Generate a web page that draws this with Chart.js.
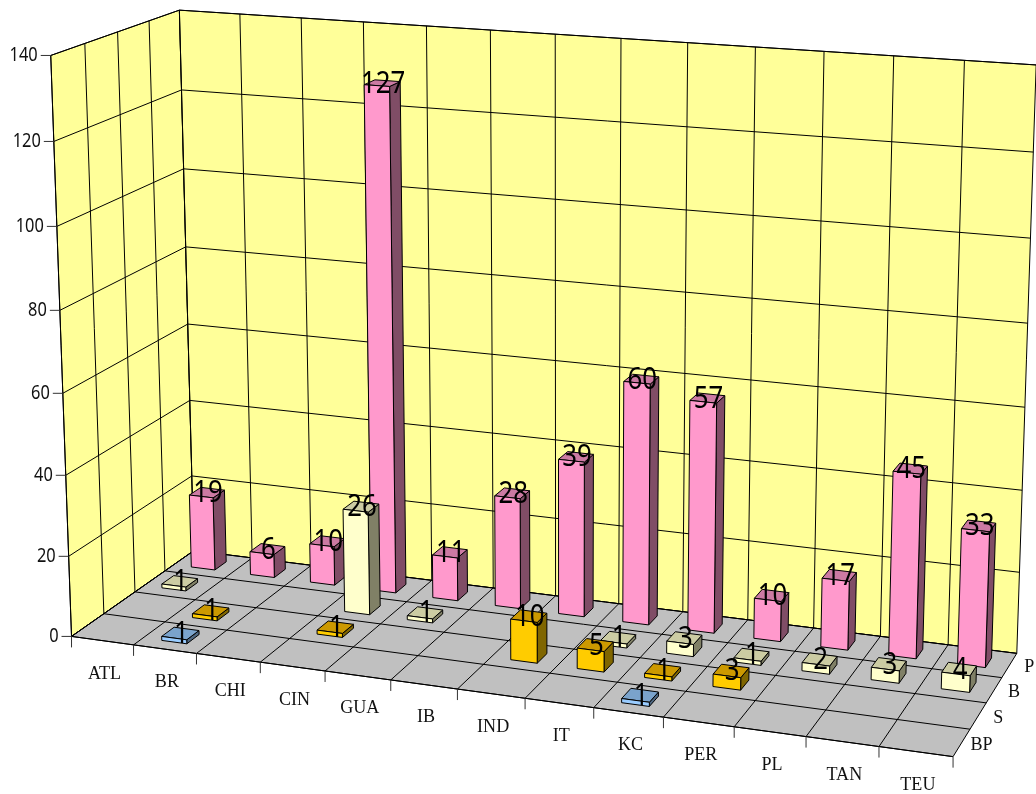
<!DOCTYPE html>
<html>
<head>
<meta charset="utf-8">
<title>Chart</title>
<script src="https://cdn.jsdelivr.net/npm/chart.js@4"></script>
<style>
  html,body{margin:0;padding:0;background:#fff;}
  canvas{display:block;}
</style>
</head>
<body>
<canvas id="grafico" width="1036" height="794"></canvas>
<script>
const categorias=["ATL","BR","CHI","CIN","GUA","IB","IND","IT","KC","PER","PL","TAN","TEU"];
const series=["BP","S","B","P"];
const valoresP=[19,6,10,127,11,28,39,60,57,10,17,45,33];
const valoresB=[1,null,null,26,1,null,null,1,3,1,2,3,4];
const valoresS=[null,1,null,1,null,null,10,5,1,3,null,null,null];
const valoresBP=[null,1,null,null,null,null,null,null,1,null,null,null,null];

// where the corners of the box land on the canvas: [u, v, w, x, y]
const cantos=[
  [0,0,0,72.3,636],[0,1,0,50.5,55],[0,0,1,193,551],[0,1,1,180,10],
  [1,0,0,953,757],[1,0,1,1017,653],[1,1,1,1036,65],
  [0,120/140,0,53.3,142],[0,120/140,1,181.7,90]
];

// projective camera, least squares over the corners
function calibrar(){
  const n=11, A=[], b=[];
  cantos.forEach(([u,v,w,x,y])=>{
    A.push([u,v,w,1,0,0,0,0,-x*u,-x*v,-x*w]); b.push(x);
    A.push([0,0,0,0,u,v,w,1,-y*u,-y*v,-y*w]); b.push(y);
  });
  const M=[];
  for(let i=0;i<n;i++){
    const l=[];
    for(let j=0;j<n;j++){
      let s=0;
      A.forEach(r=>{s+=r[i]*r[j];});
      l.push(s);
    }
    let s=0;
    A.forEach((r,k)=>{s+=r[i]*b[k];});
    l.push(s);
    M.push(l);
  }
  for(let i=0;i<n;i++){
    let p=i;
    for(let k=i+1;k<n;k++) if(Math.abs(M[k][i])>Math.abs(M[p][i])) p=k;
    [M[i],M[p]]=[M[p],M[i]];
    for(let k=0;k<n;k++){
      if(k===i) continue;
      const f=M[k][i]/M[i][i];
      for(let j=i;j<=n;j++) M[k][j]-=f*M[i][j];
    }
  }
  return M.map((l,i)=>l[n]/l[i]);
}
const cam=calibrar();

function proj(u,v,w){
  const d=cam[8]*u+cam[9]*v+cam[10]*w+1;
  return [(cam[0]*u+cam[1]*v+cam[2]*w+cam[3])/d,(cam[4]*u+cam[5]*v+cam[6]*w+cam[7])/d];
}

function face(ctx,pts,cor){
  ctx.beginPath();
  pts.forEach((p,i)=>{
    const q=proj(p[0],p[1],p[2]);
    if(i===0) ctx.moveTo(q[0],q[1]); else ctx.lineTo(q[0],q[1]);
  });
  ctx.closePath();
  if(cor){ctx.fillStyle=cor;ctx.fill();}
  ctx.stroke();
}

function linha(ctx,a,b){
  const p=proj(a[0],a[1],a[2]), q=proj(b[0],b[1],b[2]);
  ctx.beginPath();
  ctx.moveTo(p[0],p[1]);
  ctx.lineTo(q[0],q[1]);
  ctx.stroke();
}

// text squeezed horizontally
function texto(ctx,str,x,y,sx){
  ctx.save();
  ctx.translate(x,y);
  ctx.scale(sx,1);
  ctx.fillText(str,0,0);
  ctx.restore();
}

const FRACAO_BARRA=0.4;

// scale pixels to 0..1 box coordinates
function normX(s,px){return (px-s.left)/s.width;}
function normY(s,px){return (s.bottom-px)/s.height;}

const caixa3d={
  id:"caixa3d",
  beforeDatasetsDraw(chart){
    const ctx=chart.ctx, {x,y,z}=chart.scales;
    ctx.save();
    ctx.lineWidth=1;
    ctx.strokeStyle="#000";
    ctx.lineJoin="round";

    // PAREDES E CHÃO
    face(ctx,[[0,0,0],[0,1,0],[0,1,1],[0,0,1]],"#FFFF99");
    face(ctx,[[0,0,1],[0,1,1],[1,1,1],[1,0,1]],"#FFFF99");
    face(ctx,[[0,0,0],[0,0,1],[1,0,1],[1,0,0]],"#C0C0C0");

    // GRADE
    y.ticks.forEach(t=>{
      const v=normY(y,y.getPixelForValue(t.value));
      linha(ctx,[0,v,0],[0,v,1]);
      linha(ctx,[0,v,1],[1,v,1]);
    });
    categorias.forEach((_,i)=>{
      const u=i/categorias.length;
      linha(ctx,[u,0,1],[u,1,1]);
      linha(ctx,[u,0,0],[u,0,1]);
    });
    series.forEach((_,i)=>{
      const w=i/series.length;
      linha(ctx,[0,0,w],[0,1,w]);
      linha(ctx,[0,0,w],[1,0,w]);
    });

    // MARCAS DOS EIXOS
    ctx.strokeStyle="#333";
    for(let i=0;i<=categorias.length;i++){
      const p=proj(i/categorias.length,0,0);
      ctx.beginPath();ctx.moveTo(p[0],p[1]);ctx.lineTo(p[0],p[1]+11);ctx.stroke();
    }

    // TEXTO DOS EIXOS
    ctx.fillStyle="#111";
    ctx.textBaseline="middle";
    ctx.font="20px 'Noto Sans'";
    ctx.textAlign="right";
    y.ticks.forEach(t=>{
      const p=proj(0,normY(y,y.getPixelForValue(t.value)),0);
      ctx.beginPath();ctx.moveTo(p[0]-10,p[1]);ctx.lineTo(p[0],p[1]);ctx.stroke();
      texto(ctx,String(t.value),p[0]-13,p[1],0.82);
    });
    ctx.strokeStyle="#000";
    ctx.font="19px 'Liberation Serif'";
    ctx.textAlign="center";
    categorias.forEach((c,i)=>{
      const p=proj(normX(x,x.getPixelForValue(i)),0,0);
      texto(ctx,c,p[0]+2,p[1]+33,0.95);
    });
    series.forEach((s,i)=>{
      const p=proj(1,0,normX(z,z.getPixelForValue(i)));
      texto(ctx,s,p[0]+20,p[1]+2,0.95);
    });

    // BARRAS, de trás para a frente
    const meiaU=FRACAO_BARRA/categorias.length/2, meiaW=FRACAO_BARRA/series.length/2;
    chart.data.datasets.forEach(ds=>{
      const w=normX(z,z.getPixelForValue(series.indexOf(ds.label)));
      ds.data.forEach((val,i)=>{
        if(val===null) return;
        const u=normX(x,x.getPixelForValue(i));
        const v=normY(y,y.getPixelForValue(val));
        const u0=u-meiaU,u1=u+meiaU,w0=w-meiaW,w1=w+meiaW;
        face(ctx,[[u1,0,w0],[u1,0,w1],[u1,v,w1],[u1,v,w0]],ds.corLado);
        face(ctx,[[u0,v,w0],[u0,v,w1],[u1,v,w1],[u1,v,w0]],ds.corTopo);
        face(ctx,[[u0,0,w0],[u1,0,w0],[u1,v,w0],[u0,v,w0]],ds.backgroundColor);
      });
    });

    // RÓTULOS
    ctx.fillStyle="#000";
    ctx.font="30px 'Noto Sans'";
    ctx.textAlign="center";
    chart.data.datasets.forEach(ds=>{
      const w=normX(z,z.getPixelForValue(series.indexOf(ds.label)));
      ds.data.forEach((val,i)=>{
        if(val===null) return;
        const p=proj(normX(x,x.getPixelForValue(i)),normY(y,y.getPixelForValue(val)),w);
        texto(ctx,String(val),p[0]+1,p[1]+1,0.86);
      });
    });
    ctx.restore();
    return false;
  }
};

new Chart(document.getElementById("grafico"),{
  type:"bar",
  data:{
    labels:categorias,
    datasets:[
      {label:"P",data:valoresP,backgroundColor:"#FF99CC",corTopo:"#CC7AA3",corLado:"#804D66"},
      {label:"B",data:valoresB,backgroundColor:"#FFFFCC",corTopo:"#CCCCA3",corLado:"#808066"},
      {label:"S",data:valoresS,backgroundColor:"#FFCC00",corTopo:"#CC9900",corLado:"#806600"},
      {label:"BP",data:valoresBP,backgroundColor:"#99CCFF",corTopo:"#7AA3CC",corLado:"#4D6680"}
    ]
  },
  options:{
    responsive:false,
    animation:false,
    layout:{padding:0},
    plugins:{legend:{display:false},tooltip:{enabled:false}},
    scales:{
      x:{type:"category",offset:true,display:false},
      z:{type:"category",axis:"x",labels:series,offset:true,display:false},
      y:{type:"linear",min:0,max:140,ticks:{stepSize:20},display:false}
    }
  },
  plugins:[caixa3d]
});
</script>
</body>
</html>
